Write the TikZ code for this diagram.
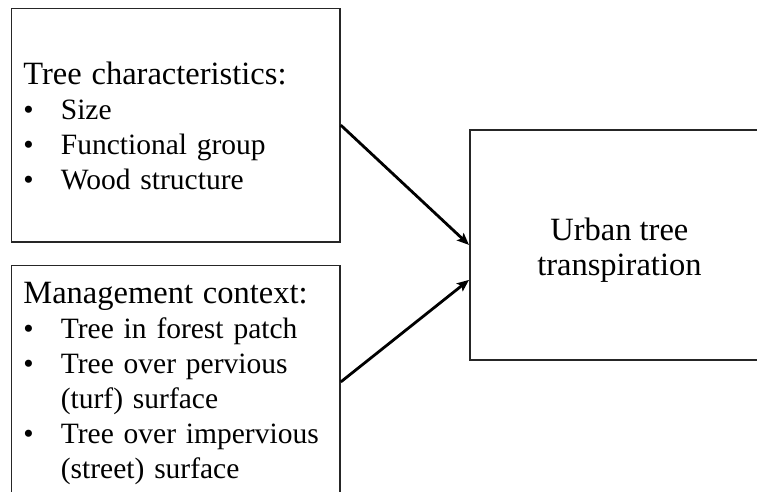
\documentclass[tikz,border=0pt]{standalone}
\usepackage{fontspec}
\setmainfont{Liberation Serif}
\usetikzlibrary{arrows.meta}
\newcommand{\headline}[1]{{\fontsize{32.5}{35}\selectfont #1}}
\newcommand{\bulletline}[1]{\makebox[37.5pt][l]{\textbullet}#1}
\newcommand{\wrapline}[1]{\hspace*{37.5pt}#1}

\begin{document}
\begin{tikzpicture}[
      x=1pt, y=-1pt,
      every node/.style={inner sep=0pt, font={\fontsize{29.5}{35}\selectfont}},
      factor/.style={draw=black!85, line width=1.8pt, anchor=north west,
        inner xsep=12pt, text width=304.5pt},
      outcome/.style={draw=black!85, line width=1.8pt, anchor=north west,
        minimum width=299pt, font={\fontsize{32.5}{35}\selectfont}},
      link/.style={-{Stealth[length=12pt,width=10pt,inset=2.5pt]}, line width=2.8pt}
    ]
      \useasboundingbox (0,0) rectangle (757,491);
      \clip (0,0) rectangle (757,491);

      % The two groups of factors on the left
      \node[factor, text height=76.5pt, text depth=157pt] (traits) at (10.5,7.5) {%
        \begin{tabular}[t]{@{}l@{}}
          \headline{Tree characteristics:}\\
          \bulletline{Size}\\
          \bulletline{Functional group}\\
          \bulletline{Wood structure}
        \end{tabular}};
      % The lower box runs past the bottom edge, so it is cut off there
      \node[factor, text height=38.5pt, text depth=194.5pt] (context) at (10.5,264.5) {%
        \begin{tabular}[t]{@{}l@{}}
          \headline{Management context:}\\
          \bulletline{Tree in forest patch}\\
          \bulletline{Tree over pervious}\\
          \wrapline{(turf) surface}\\
          \bulletline{Tree over impervious}\\
          \wrapline{(street) surface}
        \end{tabular}};

      % The outcome, cut off at the right edge
      \node[outcome, text height=111pt, text depth=119pt] (result) at (469,129) {%
        \begin{tabular}[t]{@{}c@{}}
          Urban tree\\
          transpiration
        \end{tabular}};

      \draw[link] (traits.east) -- (result.west);
      \draw[link] (context.east) -- ([yshift=-35pt]result.west);
    \end{tikzpicture}
\end{document}
